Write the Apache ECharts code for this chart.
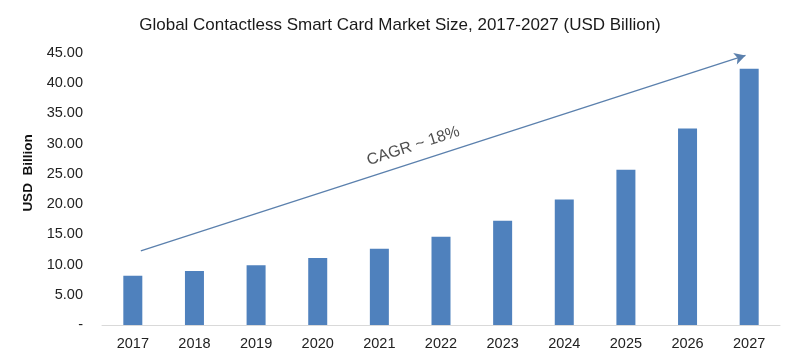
<!DOCTYPE html>
<html>
<head>
<meta charset="utf-8">
<script src="https://cdn.jsdelivr.net/npm/echarts@6/dist/echarts.min.js"></script>
<style>html,body{margin:0;padding:0;background:#fff}#c{width:800px;height:363px}</style>
</head>
<body>
<div id="c"></div>
<script>
var categories = ['2017','2018','2019','2020','2021','2022','2023','2024','2025','2026','2027'];
var marketSize = [8.15, 8.93, 9.87, 11.07, 12.61, 14.6, 17.24, 20.78, 25.7, 32.5, 42.4];
var yTicks = [0, 5, 10, 15, 20, 25, 30, 35, 40, 45];
var cagrLabel = 'CAGR ~ 18%';
var arrowStart = [0.13, 12.28];
var arrowEnd = [9.94, 44.6];
var cagrPos = [4.55, 29.6];

var chart = echarts.init(document.getElementById('c'));
chart.setOption({
  animation: false,
  title: {
    text: 'Global Contactless Smart Card Market Size, 2017-2027 (USD Billion)',
    left: 'center', top: 12,
    textStyle: { fontFamily: 'Liberation Sans Narrow, Arial Narrow, Arial', fontSize: 17, fontWeight: 'normal', color: '#1a1a1a' }
  },
  grid: { left: 102, right: 20, top: 53, bottom: 38 },
  xAxis: [{
    type: 'category', data: categories,
    axisLine: { lineStyle: { color: '#d9d9d9', width: 1 } },
    axisTick: { show: false },
    axisLabel: { color: '#222', fontFamily: 'Arial', fontSize: 14.5, margin: 11 }
  }, {
    type: 'value', min: -0.5, max: 10.5, show: false
  }],
  yAxis: {
    type: 'value', min: yTicks[0], max: yTicks[yTicks.length-1], interval: 5,
    name: 'USD  Billion', nameLocation: 'middle', nameGap: 67,
    nameTextStyle: { fontFamily: 'Arial', fontWeight: 'bold', fontSize: 13.5, color: '#111', padding: [0, 0, 0, 32] },
    axisLine: { show: false }, axisTick: { show: false }, splitLine: { show: false },
    axisLabel: { color: '#222', fontFamily: 'Arial', fontSize: 14.5, margin: 19,
      formatter: function (v) { return v === 0 ? '-' : v.toFixed(2); } }
  },
  series: [{
    type: 'bar', data: marketSize, barWidth: 19,
    itemStyle: { color: '#4f81bd' }
  }, {
    type: 'scatter', xAxisIndex: 1, data: [cagrPos], symbolSize: 0,
    label: { show: true, formatter: cagrLabel, rotate: 18, position: 'inside',
      fontFamily: 'Arial', fontSize: 16, color: '#222' },
    markLine: {
      silent: true, symbol: ['none', 'arrow'], symbolSize: [9, 11],
      lineStyle: { color: '#5b80ad', width: 1.3, type: 'solid' },
      label: { show: false },
      data: [[{ coord: arrowStart }, { coord: arrowEnd }]]
    }
  }]
});
</script>
</body>
</html>
